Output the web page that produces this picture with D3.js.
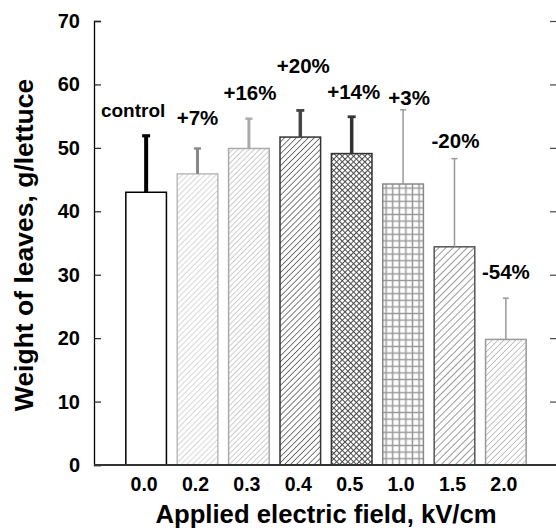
<!DOCTYPE html>
<html>
<head>
<meta charset="utf-8">
<script src="https://cdn.jsdelivr.net/npm/d3@7"></script>
<style>
  body { margin: 0; background: #fff; }
  svg text { font-family: "Liberation Sans", Arial, sans-serif; font-weight: bold; fill: #000; }
</style>
</head>
<body>
<div id="chart"></div>
<script>
// data
var fields = ["0.0", "0.2", "0.3", "0.4", "0.5", "1.0", "1.5", "2.0"];
var weights = [43.0, 45.9, 49.9, 51.7, 49.1, 44.3, 34.4, 19.8];
var errors = [8.9, 4.0, 4.7, 4.2, 5.8, 11.7, 13.9, 6.5];
var changeLabels = ["control", "+7%", "+16%", "+20%", "+14%", "+3%", "-20%", "-54%"];
var labelLevels = [54.9, 53.6, 57.5, 61.8, 57.7, 56.8, 49.9, 29.3];
var yTicks = [0, 10, 20, 30, 40, 50, 60, 70];

const width = 556, height = 528;
const plotLeft = 95, plotRight = 557, plotTop = 21, plotBottom = 465;

// look of each bar, same order as fields
const barStyles = [
  {fill: "#fff", stroke: "#000", err: "#000", errW: 4, cap: 4},
  {fill: "url(#h02)", stroke: "#bbb", err: "#888", errW: 3, cap: 3.5},
  {fill: "url(#h03)", stroke: "#aaa", err: "#aaa", errW: 3, cap: 3.5},
  {fill: "url(#h04)", stroke: "#333", err: "#444", errW: 3.5, cap: 4},
  {fill: "url(#h05)", stroke: "#333", err: "#333", errW: 3.5, cap: 4},
  {fill: "url(#h10)", stroke: "#888", err: "#999", errW: 1.5, cap: 3},
  {fill: "url(#h15)", stroke: "#555", err: "#999", errW: 1.5, cap: 3},
  {fill: "url(#h20)", stroke: "#999", err: "#999", errW: 1.5, cap: 3}
];

const svg = d3.select("#chart").append("svg")
  .attr("width", width)
  .attr("height", height);

const defs = svg.append("defs");

function hatch(id, color, gap, sw) {
  const p = defs.append("pattern")
    .attr("id", id)
    .attr("patternUnits", "userSpaceOnUse")
    .attr("width", gap).attr("height", gap)
    .attr("patternTransform", "rotate(45)");
  p.append("rect").attr("width", gap).attr("height", gap).attr("fill", "#fff");
  p.append("line")
    .attr("x1", 0).attr("y1", 0).attr("x2", 0).attr("y2", gap)
    .attr("stroke", color).attr("stroke-width", sw);
}
hatch("h02", "#b0b0b0", 4, 1);
hatch("h03", "#9a9a9a", 3.8, 1);
hatch("h04", "#333", 4.2, 1.3);
hatch("h15", "#555", 5, 1.2);
hatch("h20", "#888", 4.2, 1);

// dense cross hatch
const cross = defs.append("pattern")
  .attr("id", "h05")
  .attr("patternUnits", "userSpaceOnUse")
  .attr("width", 4).attr("height", 4)
  .attr("patternTransform", "rotate(45)");
cross.append("rect").attr("width", 4).attr("height", 4).attr("fill", "#fff");
cross.append("line").attr("x1", 0).attr("y1", 0).attr("x2", 0).attr("y2", 4)
  .attr("stroke", "#444").attr("stroke-width", 1.9);
cross.append("line").attr("x1", 0).attr("y1", 0).attr("x2", 4).attr("y2", 0)
  .attr("stroke", "#444").attr("stroke-width", 1.9);

// square grid
const grid = defs.append("pattern")
  .attr("id", "h10")
  .attr("patternUnits", "userSpaceOnUse")
  .attr("width", 6.6).attr("height", 6.6);
grid.append("rect").attr("width", 6.6).attr("height", 6.6).attr("fill", "#fff");
grid.append("path").attr("d", "M3.3,0V6.6M0,3.3H6.6")
  .attr("stroke", "#999").attr("stroke-width", 1.5);

const x = d3.scaleBand()
  .domain(fields)
  .range([plotLeft, plotRight])
  .paddingInner(0.21)
  .paddingOuter(0.6);

const y = d3.scaleLinear()
  .domain([0, 70])
  .range([plotBottom, plotTop]);

// bars
svg.selectAll(".bar")
  .data(fields)
  .join("rect")
    .attr("class", "bar")
    .attr("x", function(d){ return x(d); })
    .attr("width", x.bandwidth())
    .attr("y", function(d, i){ return y(weights[i]); })
    .attr("height", function(d, i){ return y(0) - y(weights[i]); })
    .attr("fill", function(d, i){ return barStyles[i].fill; })
    .attr("stroke", function(d, i){ return barStyles[i].stroke; })
    .attr("stroke-width", 1.5);

// error bars (upper half only)
const errG = svg.selectAll(".err")
  .data(fields)
  .join("g")
    .attr("class", "err")
    .attr("stroke", function(d, i){ return barStyles[i].err; });

errG.append("line")
  .attr("x1", function(d){ return x(d) + x.bandwidth() / 2; })
  .attr("x2", function(d){ return x(d) + x.bandwidth() / 2; })
  .attr("y1", function(d, i){ return y(weights[i]); })
  .attr("y2", function(d, i){ return y(weights[i] + errors[i]); })
  .attr("stroke-width", function(d, i){ return barStyles[i].errW; });

errG.append("line")
  .attr("x1", function(d, i){ return x(d) + x.bandwidth() / 2 - barStyles[i].cap; })
  .attr("x2", function(d, i){ return x(d) + x.bandwidth() / 2 + barStyles[i].cap; })
  .attr("y1", function(d, i){ return y(weights[i] + errors[i]); })
  .attr("y2", function(d, i){ return y(weights[i] + errors[i]); })
  .attr("stroke-width", function(d, i){ return Math.max(1.5, barStyles[i].errW * 0.8); });

// change labels over the bars
const labelNudge = [-13, 0, 1, 3, 2, 6, 1, 0];
svg.selectAll(".change")
  .data(changeLabels)
  .join("text")
    .attr("class", "change")
    .attr("text-anchor", "middle")
    .attr("font-size", function(d, i){ return i === 0 ? "19px" : "20.5px"; })
    .attr("x", function(d, i){ return x(fields[i]) + x.bandwidth() / 2 + labelNudge[i]; })
    .attr("y", function(d, i){ return y(labelLevels[i]); })
    .text(function(d){ return d; });

// left axis, ticks pointing inward
const yAxis = svg.append("g")
  .attr("transform", "translate(" + (plotLeft - 1) + ",0)")
  .call(d3.axisRight(y).tickValues(yTicks).tickSize(7).tickFormat(""));
yAxis.select(".domain").attr("stroke", "#000").attr("stroke-width", 1.3);
yAxis.selectAll(".tick line").attr("stroke", "#222").attr("stroke-width", 1.2);

svg.selectAll(".ylab")
  .data(yTicks)
  .join("text")
    .attr("class", "ylab")
    .attr("text-anchor", "end")
    .attr("font-size", "20px")
    .attr("x", 80)
    .attr("y", function(d){ return y(d) + 7; })
    .text(function(d){ return d; });

// right side ticks (frame sits just past the edge)
const yAxisR = svg.append("g")
  .attr("transform", "translate(" + plotRight + ",0)")
  .call(d3.axisLeft(y).tickValues(yTicks.slice(1)).tickSize(7).tickFormat(""));
yAxisR.selectAll(".tick line").attr("stroke", "#444").attr("stroke-width", 1.2);

// bottom axis line, no ticks
svg.append("line")
  .attr("x1", plotLeft - 1).attr("x2", width)
  .attr("y1", y(0)).attr("y2", y(0))
  .attr("stroke", "#333").attr("stroke-width", 2);

svg.selectAll(".xlab")
  .data(fields)
  .join("text")
    .attr("class", "xlab")
    .attr("text-anchor", "middle")
    .attr("font-size", "19.5px")
    .attr("x", function(d){ return x(d) + x.bandwidth() / 2 - 2; })
    .attr("y", 491)
    .text(function(d){ return d; });

svg.append("text")
  .attr("text-anchor", "middle")
  .attr("font-size", "25.7px")
  .attr("x", 326)
  .attr("y", 523)
  .text("Applied electric field, kV/cm");

svg.append("text")
  .attr("text-anchor", "middle")
  .attr("font-size", "26.5px")
  .attr("transform", "translate(33,245) rotate(-90)")
  .text("Weight of leaves, g/lettuce");
</script>
</body>
</html>
